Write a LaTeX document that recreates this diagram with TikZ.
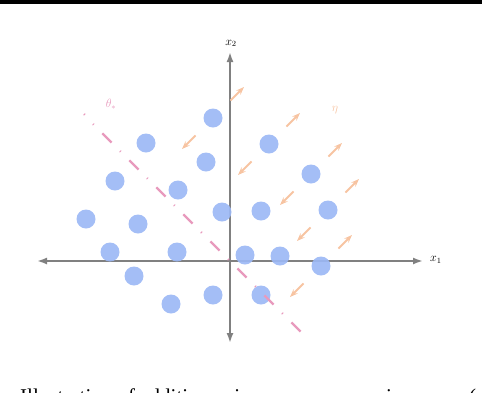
\documentclass[tikz,border=0pt]{standalone}
\usepackage{fontspec}
\usetikzlibrary{arrows.meta,calc}
\newfontfamily\capfont{Liberation Serif}
\definecolor{dotblue}{HTML}{9CB8F5}
\definecolor{thpink}{HTML}{E89ABD}
\definecolor{etapeach}{HTML}{F7C4A2}
\definecolor{axgray}{HTML}{808080}
\tikzset{
  pt/.style={circle, minimum size=19pt, inner sep=0pt, fill=dotblue, fill opacity=0.92, draw=none},
  axis/.style={draw=axgray, line width=1.8pt, {Latex[length=10pt,width=7pt]}-{Latex[length=10pt,width=7pt]}},
  pert/.style={draw=etapeach, line width=1.8pt, -{Stealth[length=8pt,width=6pt]}, shorten <=15pt},
  sep/.style={draw=thpink, line width=2.3pt, dash pattern=on 1pt off 12.2pt on 13pt off 12pt},
  lbl/.style={inner sep=0pt, font=\fontsize{12}{14}\selectfont},
  captxt/.style={anchor=base west, inner sep=0pt, font=\capfont\fontsize{21}{24}\selectfont},
}
\begin{document}
\begin{tikzpicture}[x=1pt,y=-1pt]
\useasboundingbox (0,0) rectangle (482,392);
% top rule
\fill[black] (0,0) rectangle (482,3.5);
% axes
\coordinate (xl) at (37,261);
\coordinate (xr) at (423,261);
\coordinate (yt) at (230,52);
\coordinate (yb) at (230,343);
\draw[axis] (xl) -- (xr);
\draw[axis] (yb) -- (yt);
\node[lbl, anchor=west] (x1) at (430,260) {$x_1$};
\node[lbl, anchor=south] (x2) at (231,47) {$x_2$};
% points
\node[pt] (c1) at (213,118) {};
\node[pt] (c2) at (146,143) {};
\node[pt] (c3) at (269,144) {};
\node[pt] (c4) at (206,162) {};
\node[pt] (c5) at (115,181) {};
\node[pt] (c6) at (311,174) {};
\node[pt] (c7) at (178,190) {};
\node[pt] (c8) at (222,212) {};
\node[pt] (c9) at (261,211) {};
\node[pt] (c10) at (328,210) {};
\node[pt] (c11) at (86,219) {};
\node[pt] (c12) at (138,224) {};
\node[pt] (c13) at (110,252) {};
\node[pt] (c14) at (177,252) {};
\node[pt] (c15) at (245,255) {};
\node[pt] (c16) at (280,256) {};
\node[pt] (c17) at (321,266) {};
\node[pt] (c18) at (134,276) {};
\node[pt] (c19) at (171,304) {};
\node[pt] (c20) at (213,295) {};
\node[pt] (c21) at (261,295) {};
% perturbation arrows
\foreach \c in {c1,c3,c6,c10,c17}{
  \coordinate (\c u) at ($(\c)+(31,-31)$);
  \coordinate (\c d) at ($(\c)+(-31,31)$);
  \draw[pert] (\c) -- (\c u);
  \draw[pert] (\c) -- (\c d);
}
\node[lbl, text=etapeach] (eta) at (335,110) {$\eta$};
% separator theta*
\coordinate (t0) at (93,124);
\coordinate (t1) at (301,332);
\coordinate (ta) at (84,114);
\coordinate (tb) at (84.8,114.8);
\draw[sep] (t0) -- (t1);
\draw[draw=thpink, line width=2.3pt] (ta) -- (tb);
\node[lbl, text=thpink] (theta) at (111,104) {$\theta_*$};
% caption (cut off at the bottom edge, only tops visible)
\node[captxt] (cap1) at (20,403) {Illustration of additive noise};
\node[captxt] (cap2) at (386,403) {in};
\node[captxt] (cap3) at (469,403) {(};
\end{tikzpicture}
\end{document}
